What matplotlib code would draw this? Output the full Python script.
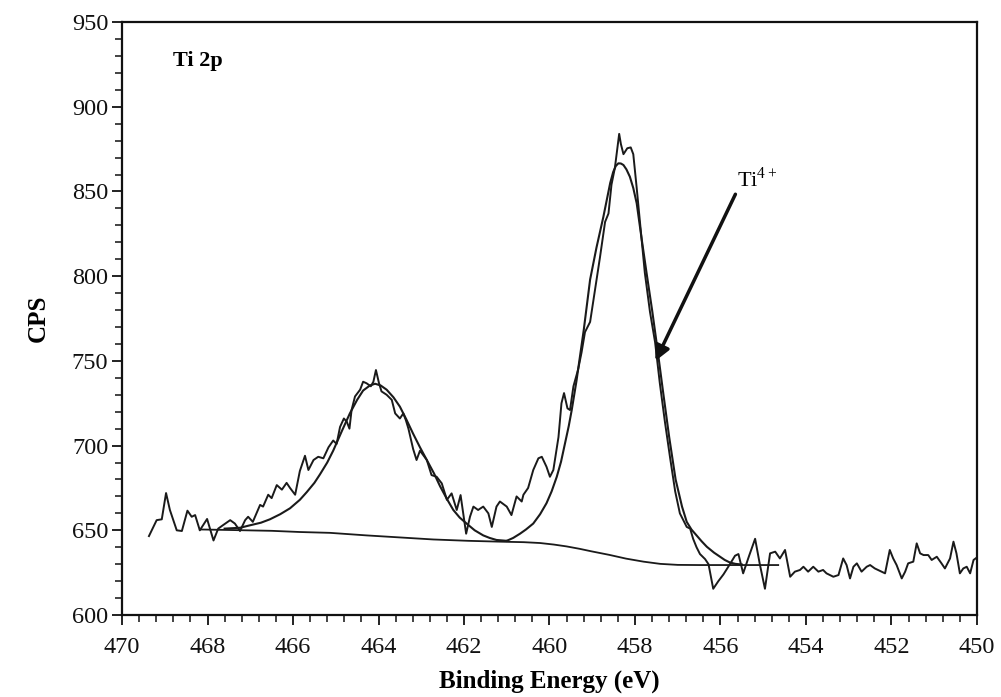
import numpy as np
import matplotlib.pyplot as plt
from matplotlib.ticker import MultipleLocator

# raw Ti 2p spectrum (binding energy eV, counts per second)
raw_ev = [469.37, 469.19, 469.07, 468.97, 468.88, 468.72, 468.60, 468.47, 468.37, 468.29,
          468.18, 468.01, 467.86, 467.75, 467.64, 467.47, 467.36, 467.24, 467.12, 467.05,
          466.94, 466.77, 466.70, 466.58, 466.50, 466.38, 466.26, 466.15, 466.07, 465.95,
          465.84, 465.72, 465.64, 465.52, 465.41, 465.29, 465.17, 465.06, 464.98, 464.90,
          464.81, 464.74, 464.68, 464.63, 464.55, 464.43, 464.36, 464.28, 464.18, 464.12,
          464.06, 463.99, 463.93, 463.81, 463.69, 463.61, 463.50, 463.42, 463.36, 463.30,
          463.19, 463.11, 463.03, 462.87, 462.76, 462.64, 462.52, 462.40, 462.29, 462.17,
          462.08, 461.95, 461.86, 461.78, 461.67, 461.55, 461.43, 461.35, 461.24, 461.16,
          461.00, 460.89, 460.77, 460.65, 460.61, 460.50, 460.38, 460.26, 460.18, 460.07,
          459.99, 459.91, 459.79, 459.72, 459.66, 459.58, 459.52, 459.44, 459.33, 459.25,
          459.17, 459.05, 458.94, 458.82, 458.70, 458.62, 458.55, 458.47, 458.41, 458.37,
          458.33, 458.27, 458.18, 458.10, 458.04, 457.96, 457.88, 457.77, 457.65, 457.53,
          457.42, 457.30, 457.18, 457.06, 456.95, 456.79, 456.71, 456.64, 456.56, 456.48,
          456.36, 456.28, 456.17, 456.05, 455.93, 455.78, 455.66, 455.58, 455.47, 455.33,
          455.19, 455.08, 454.96, 454.84, 454.72, 454.61, 454.49, 454.37, 454.26, 454.14,
          454.06, 453.95, 453.83, 453.71, 453.60, 453.52, 453.36, 453.24, 453.13, 453.05,
          452.97, 452.89, 452.81, 452.70, 452.58, 452.50, 452.39, 452.23, 452.15, 452.04,
          451.96, 451.88, 451.76, 451.68, 451.61, 451.49, 451.41, 451.33, 451.25, 451.14,
          451.06, 450.94, 450.83, 450.75, 450.63, 450.55, 450.48, 450.40, 450.32, 450.24,
          450.16, 450.08, 450.00]
raw_cps = [646.6, 656.0, 656.5, 672.0, 662.0, 650.0, 649.6, 661.6, 658.0, 659.0,
           650.0, 656.7, 644.0, 651.0, 653.0, 656.0, 654.0, 649.6, 656.0, 658.0,
           655.0, 665.0, 664.0, 671.0, 669.0, 676.7, 674.0, 678.0, 675.0, 671.0,
           685.0, 694.0, 685.6, 691.5, 693.4, 692.5, 699.0, 703.0, 701.0, 711.0,
           716.0, 714.0, 710.0, 721.0, 729.0, 733.0, 737.7, 736.8, 735.0, 737.7,
           744.6, 737.0, 732.0, 730.0, 727.0, 719.0, 716.0, 719.0, 715.0, 710.0,
           698.0, 691.5, 697.0, 691.5, 682.6, 681.6, 677.7, 668.0, 671.8, 662.0,
           670.8, 648.0, 658.0, 664.0, 662.0, 664.0, 660.0, 652.0, 664.0, 667.0,
           664.0, 659.0, 670.0, 667.0, 671.0, 675.0, 685.6, 692.5, 693.4, 687.5,
           681.6, 685.6, 705.0, 725.0, 731.0, 722.0, 721.0, 735.0, 745.0, 755.0,
           767.0, 773.0, 791.0, 811.0, 832.0, 837.0, 854.0, 864.0, 876.0, 884.0,
           878.0, 872.0, 875.5, 876.0, 872.0, 852.0, 831.0, 802.0, 779.0, 761.0,
           737.0, 714.0, 693.0, 673.0, 660.0, 652.0, 651.0, 645.0, 640.0, 636.0,
           633.0, 630.0, 615.5, 620.0, 624.0, 630.0, 635.0, 636.0, 624.6, 635.0,
           645.0, 630.0, 615.5, 636.4, 637.4, 633.4, 638.4, 622.6, 625.6, 626.6,
           628.5, 625.6, 628.5, 625.6, 626.6, 624.6, 622.6, 623.6, 633.4, 629.5,
           621.6, 628.5, 630.5, 625.6, 628.5, 629.5, 627.5, 625.6, 624.6, 638.4,
           633.4, 629.5, 621.6, 625.6, 630.5, 631.5, 642.3, 636.4, 635.4, 635.4,
           632.5, 634.4, 630.5, 627.5, 633.4, 643.3, 636.4, 624.6, 627.5, 628.5,
           624.6, 632.5, 634.0]

# fitted Ti 2p1/2 component
fit1_ev = [467.60, 467.24, 467.00, 466.75, 466.54, 466.30, 466.07, 465.84, 465.68, 465.50,
           465.37, 465.20, 465.06, 464.85, 464.67, 464.50, 464.36, 464.20, 464.08, 463.95,
           463.81, 463.65, 463.50, 463.35, 463.19, 463.03, 462.87, 462.70, 462.56, 462.40,
           462.25, 462.10, 461.94, 461.75, 461.55, 461.40, 461.24, 461.00]
fit1_cps = [651.0, 651.5, 653.0, 654.5, 656.5, 659.5, 663.0, 668.0, 672.5, 678.0,
            683.0, 690.0, 697.0, 709.0, 719.0, 727.0, 732.5, 735.5, 736.5, 735.5,
            733.0, 728.5, 723.0, 715.5, 707.0, 699.0, 691.5, 683.5, 676.0, 668.5,
            662.0, 657.5, 654.0, 650.0, 647.0, 645.5, 644.3, 643.8]

# fitted Ti 2p3/2 component (Ti4+)
fit2_ev = [461.00, 460.85, 460.69, 460.55, 460.38, 460.22, 460.07, 459.95, 459.83, 459.73,
           459.64, 459.55, 459.48, 459.37, 459.20, 459.05, 458.90, 458.74, 458.58, 458.51,
           458.45, 458.39, 458.33, 458.27, 458.20, 458.12, 458.04, 457.96, 457.85, 457.73,
           457.60, 457.48, 457.35, 457.20, 457.05, 456.90, 456.79, 456.68, 456.56, 456.44,
           456.32, 456.15, 456.01, 455.90, 455.78, 455.65, 455.50]
fit2_cps = [643.8, 645.5, 648.0, 650.5, 654.0, 659.5, 666.0, 673.0, 681.6, 690.5,
            701.0, 711.5, 721.0, 738.0, 768.0, 798.0, 817.0, 835.0, 855.0, 861.5,
            865.0, 866.6, 866.5, 865.6, 863.0, 858.7, 852.0, 843.0, 823.0, 802.0,
            780.0, 758.0, 733.0, 705.0, 680.0, 664.0, 655.0, 650.5, 647.0, 643.5,
            640.3, 636.8, 634.4, 632.5, 631.0, 630.2, 629.8]

# Shirley-type background
bg_ev = [468.18, 467.50, 466.50, 465.84, 465.13, 464.28, 463.50, 462.72, 461.90, 461.16,
         460.60, 460.22, 459.90, 459.60, 459.30, 459.02, 458.60, 458.21, 457.80, 457.41,
         457.00, 456.50, 455.50, 454.65]
bg_cps = [650.5, 650.2, 649.7, 649.0, 648.5, 647.0, 645.8, 644.6, 643.8, 643.3,
          643.0, 642.5, 641.6, 640.5, 639.1, 637.6, 635.5, 633.3, 631.5, 630.2,
          629.6, 629.5, 629.5, 629.5]

xticks = [470, 468, 466, 464, 462, 460, 458, 456, 454, 452, 450]
yticks = [600, 650, 700, 750, 800, 850, 900, 950]

plt.rcParams['font.family'] = ['Liberation Serif', 'DejaVu Serif']
plt.rcParams['mathtext.fontset'] = 'custom'
plt.rcParams['mathtext.rm'] = 'Liberation Serif'

fig = plt.figure(figsize=(10.01, 6.97), dpi=100)
ax = fig.add_axes([0.1219, 0.1176, 0.8541, 0.8508])

line_color = '#1a1a1a'
ax.plot(bg_ev, bg_cps, color=line_color, linewidth=1.3)
ax.plot(fit1_ev, fit1_cps, color=line_color, linewidth=1.5)
ax.plot(fit2_ev, fit2_cps, color=line_color, linewidth=1.5)
ax.plot(raw_ev, raw_cps, color=line_color, linewidth=1.4)

ax.set_xlim(470, 450)
ax.set_ylim(600, 950)
ax.set_xticks(xticks)
ax.set_yticks(yticks)
ax.xaxis.set_minor_locator(MultipleLocator(0.4))
ax.yaxis.set_minor_locator(MultipleLocator(10))
ax.tick_params(which='major', direction='out', length=7, width=1.3, labelsize=17.5,
               colors='#111111')
ax.tick_params(which='minor', direction='out', length=5, width=1.1, colors='#111111')
ax.tick_params(axis='x', pad=9)
ax.tick_params(axis='y', pad=3)
for spine in ax.spines.values():
    spine.set_linewidth(1.6)
    spine.set_color('#111111')

ax.set_xlabel('Binding Energy (eV)', fontsize=18, fontweight='bold', labelpad=8)
ax.set_ylabel('CPS', fontsize=18, fontweight='bold', labelpad=16)

ax.text(468.8, 927, 'Ti 2p', fontsize=16, fontweight='bold', va='center', ha='left')
ax.annotate(r'$\mathrm{Ti}^{4+}$', xy=(457.52, 750), xytext=(455.62, 850),
            fontsize=16, ha='left', va='bottom',
            arrowprops=dict(arrowstyle='-|>', color='#111111', lw=2.5,
                            mutation_scale=22, shrinkA=0, shrinkB=0,
                            relpos=(0.0, 0.0)))

plt.savefig('out.png', dpi=100)
